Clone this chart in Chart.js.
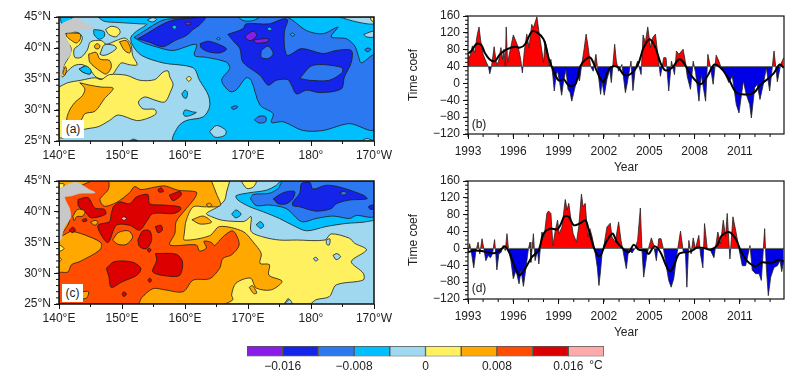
<!DOCTYPE html>
<html>
<head>
<meta charset="utf-8">
<title>Time coef</title>
<script src="https://cdn.jsdelivr.net/npm/chart.js@4"></script>
<style>
  body { margin: 0; background: #fff; width: 801px; height: 377px; overflow: hidden; position: relative; font-family: "Liberation Sans", Arial, sans-serif; }
  canvas { position: absolute; }
  .tag { position: absolute; font-size: 12px; color: #222; text-align: center; line-height: 18px; }
</style>
</head>
<body>
<canvas id="mapA" style="left:0;top:0"></canvas>
<canvas id="mapC" style="left:0;top:165px"></canvas>
<canvas id="tsB" style="left:400px;top:0"></canvas>
<canvas id="tsD" style="left:400px;top:165px"></canvas>
<canvas id="cbar" style="left:230px;top:340px"></canvas>
<div class="tag" style="left:62px;top:120px;width:22px;height:18px;background:#fff">(a)</div>
<div class="tag" style="left:62px;top:284px;width:21px;height:18px;background:#fff">(c)</div>
<div class="tag" style="left:469px;top:115px;width:20px">(b)</div>
<div class="tag" style="left:469px;top:279px;width:20px">(d)</div>
<div class="tag" style="left:587px;top:356px;width:18px">°C</div>
<script>
//-----AXES
const lonTicks = [140, 150, 160, 170, 180, 190];
const lonLabels = ['140°E', '150°E', '160°E', '170°E', '180°', '170°W'];
const latTicks = [25, 30, 35, 40, 45];
const latLabels = ['25°N', '30°N', '35°N', '40°N', '45°N'];
const yearTicks = [1993, 1996, 1999, 2002, 2005, 2008, 2011];
const coefTicks = [-120, -80, -40, 0, 40, 80, 120, 160];
const levelEdges = [-0.02, -0.016, -0.012, -0.008, -0.004, 0, 0.004, 0.008, 0.012, 0.016, 0.02];
const levelTicks = [-0.016, -0.008, 0, 0.008, 0.016];

//-----COAST (both maps)
const coast = [[140,43.7],[142.2,44.7],[143,44.7],[144.6,43.7],[145.7,43.1],[143.3,43],[142,42.6],[140.9,42.4],[141.2,41.5],[141.7,40.4],[141.8,39],[140.9,37.7],[140.5,36.3],[140.4,35.6],[140,35.2],[139,39]];

//-----MAP (a) contour areas, lon/lat
const aCyan = [[146.2,45],[147.2,44.3],[149.6,44.1],[152.8,43.9],[153.9,43.8],[152.3,42.7],[151.4,41.7],[151.7,40.4],[153.1,38.8],[156.5,37.6],[161.3,36.8],[162.3,34.8],[163.7,32.4],[163.9,30.5],[162.9,28.9],[160.2,28.3],[158.9,27.3],[158.2,25],[190,25],[190,45]];
const aCyanNw = [[140.2,45],[140.4,44],[141,43.7],[141.8,44.5],[142.2,45]];
const aCyan2 = [[145.5,43],[147.1,42.7],[147.2,41.9],[146.4,41.4],[145.6,42.1]];
const aMid = [[151.9,41.7],[153.6,42.8],[156.5,44.5],[159.2,44.8],[163.4,45],[175.8,45],[176.9,44.6],[179.3,42.8],[181.9,42.3],[184.3,43.4],[183.2,41.8],[185.6,41.5],[186.9,40.4],[187.5,38.8],[188,37.6],[190,38.8],[190,26.9],[186.1,27.8],[181.9,26.7],[178.7,26.7],[175.6,28.1],[173.7,28],[174,29.4],[171.9,30.8],[170.5,34.8],[169.7,35.2],[168.1,33.2],[167.1,33],[165.8,34.8],[167.1,36.7],[166.6,37.7],[163.4,38.5],[161.5,38.8],[161.8,40.6],[158.1,39.6],[155.4,40.2],[153.3,40.9]];
const aBlue1 = [[152.5,41.5],[153.9,42.3],[156.2,43.7],[158.1,44.5],[160.7,44.8],[163.2,44.9],[162.3,43.7],[161.3,43],[160.2,42],[158.4,41.2],[156.5,40.2],[154.4,40.9]];
const aBlue2 = [[162.4,40.7],[163.7,41.1],[165.8,40.4],[166.6,39.8],[165.5,39.2],[163.7,39.4],[162.6,40]];
const aBlue3 = [[166.8,42.2],[169.2,43.1],[169.7,43.9],[173.4,43.9],[175.6,44.7],[176.3,44.5],[175.8,42.8],[175.8,40.2],[176.3,38.8],[178.5,39.9],[181.9,39.1],[184,39.6],[186.4,39.6],[186.4,37.7],[185.3,35.3],[184.8,33.4],[181.4,32.8],[179.3,33.2],[177.7,32.6],[176.9,34],[176.3,34.9],[174.5,34.8],[173.2,34],[171.9,35.6],[169.2,37.7],[168.7,39.9],[167.6,41.2]];
const aHole1 = [[172.1,39.6],[173.2,40.3],[174,39.1],[173.2,38.3],[172.1,38.5]];
const aHole2 = [[178.2,35.1],[180.3,37.2],[184.8,36.9],[185,36.1],[182.9,34.8],[179.7,34.8]];
const aPurple1 = [[169.6,42],[170.8,42.7],[171.4,42.1],[170.5,41.2],[169.7,41.5]];
const aPurple2 = [[170.9,41.3],[173.2,41.5],[173.1,41],[171.3,40.8]];
const aPurple3 = [[160,44],[160.5,44.2],[161,43.9],[160.4,43.7]];
const aCyanSpots = [
  [[168.4,45],[171.8,45],[170.7,44.4],[169.3,44.4]],
  [[157.9,43.4],[158.3,43.7],[158.7,43.4],[158.3,43]],
  [[165,41.5],[165.3,41.7],[165.6,41.5],[165.3,41.3]],
  [[173,43.1],[173.4,43.4],[173.8,43],[173.4,42.8]],
  [[176.7,42.2],[177.1,42.4],[177.4,42.1],[177,41.9]],
  [[143.2,36.6],[144.3,37.1],[145.1,36.4],[144.9,35.8],[143.8,36.1]],
  [[159.5,32.6],[160,33.2],[160.4,32.8],[160.2,31.9],[159.8,32]],
  [[159.7,29.4],[160,30],[161.2,29.7],[161.8,29.6],[160.8,29.1],[160,29]],
  [[151.2,25],[151.8,25.3],[152.5,25]]
];
const aMidSpots = [
  [[167.3,30.4],[168,30.7],[168.4,30.5],[167.7,30.1]],
  [[171,28.4],[171.8,29],[172.8,28.9],[172.8,28.1],[171.8,27.9]],
  [[188.5,39.7],[189,40],[189.5,39.8],[189,39.4]]
];
const aLightSpots = [
  [[154,44.5],[154.9,44.9],[155.5,44.6],[154.8,44.2]],
  [[163.9,26.5],[165,27.5],[166.5,26.7],[166.3,25.9],[164.8,25.6]],
  [[188,25],[188.9,25.4],[189.8,25]],
  [[184.5,45],[187.3,44.2],[190,43.9],[190,45]],
  [[188.4,42.2],[190,42.7],[190,41.8],[188.8,41.8]],
  [[146.5,39],[147.2,40.5],[148.8,40.4],[149.1,39.9],[147.8,39],[147,38.8]]
];
const aYellow1 = [[140.4,35.6],[140.8,37.2],[141.7,38.8],[141.9,40.1],[140.9,41.5],[141.1,42.4],[143,42.5],[143.7,41.7],[143.3,40.6],[142.4,39.8],[142.5,38.5],[143.5,38.5],[144.5,39.7],[145,41],[146.7,41.2],[147.5,40.6],[149.1,41.2],[150.5,41.6],[151.4,40.6],[151.7,38.8],[152.4,37.3],[151.2,37.3],[149.9,37.6],[149.3,36.9],[148.4,35.6],[147.2,35],[145.9,35.3],[144.9,36.5],[143.8,37.3],[142.5,37.2],[141.2,36.1],[140.6,35.3]];
const aYellow2 = [[140,33.7],[141.4,34.4],[143.5,34.8],[145.7,35.2],[146.7,34.9],[148,35.7],[150.7,35.6],[152.8,34.8],[155.2,34.9],[156.5,36.1],[157.3,36.3],[157.6,35.3],[158.1,34.2],[157.8,33.2],[156.8,31.3],[155.2,31.6],[153.6,32.1],[152.6,31.3],[153.3,30.2],[155.2,30.1],[155.4,29.4],[153.9,28.6],[152.3,28.3],[149.4,29.2],[148,28.3],[146.2,27.3],[144.1,26.9],[140,25.6]];
const aYellow3 = [[147.4,43],[148.3,43.5],[149.4,43.2],[149.7,42.5],[149,41.8],[147.9,42.2]];
const aYellow4 = [[160.2,35.1],[160.6,35.4],[161,35.1],[160.6,34.6]];
const aYellow5 = [[189.4,45],[190,45],[190,44.3],[189.6,44.4]];
const aOrange1 = [[143.3,34.4],[144.9,34],[146.7,33.7],[148.6,33.5],[147.2,31.8],[145.7,29.8],[144.1,29.4],[143.4,28.3],[141.3,28.3],[141.6,29.8],[142.5,31.2],[143.7,32.3],[144.1,33.4]];
const aOrange2 = [[141.2,42.4],[143.3,42.3],[143.4,41.5],[142.8,40.8],[142,41.2],[141.2,41.9]];
const aOrange3 = [[144.7,39],[145.9,39.3],[146.5,38.2],[148,38],[148.3,36.9],[147.5,35.8],[146.5,36.3],[144.9,37.7]];
const aOrange4 = [[145.6,40.3],[146,40.7],[146.5,40.4],[146.3,39.9],[145.8,39.9]];
const aOrange5 = [[149.6,41],[150.7,41.2],[151.4,39.8],[151.2,39.2],[150.4,39.6]];
const aOrange6 = [[140.6,35.9],[141,37],[141.2,36.5],[140.9,35.6]];

//-----MAP (c) contour areas, lon/lat
const cCyan = [[190,38.6],[188.3,38.3],[185.6,38.1],[182.4,37.6],[179.3,36.9],[177.1,37.8],[175,38.9],[172.4,40],[170.3,40.8],[168.4,41.9],[168.1,42.6],[170.3,43.1],[172.9,43.5],[174.5,44.3],[175.3,45],[190,45]];
const cMid = [[170.4,42.1],[170.8,42.8],[173.4,43],[174.8,43.8],[175.6,45],[190,45],[190,39.3],[187.2,39.4],[186.1,38.9],[183.5,39.3],[180.8,38.9],[178.5,38.4],[176.1,40.5],[173.4,41.1],[171.3,41]];
const cBlue1 = [[177.1,41.6],[178.2,43],[178.5,44.6],[179.8,44.8],[180.3,43.7],[182.4,44.3],[184.6,44],[188.3,42.7],[188.9,42.1],[186.1,41.9],[184,41.3],[183.2,40.5],[180.8,40.1],[178.2,40.8],[177.1,41]];
const cBlue2 = [[174,42.1],[175.6,43.1],[177.4,43.3],[177.1,42.1],[176.1,41.3],[174.8,41.3]];
const cBlue3 = [[189.1,40.8],[189.6,41.1],[190,41],[190,40.5],[189.4,40.4]];
const cMidSpot = [[184.6,43.1],[185.2,43.3],[185.7,43],[185.1,42.7]];
const cCyanSpots = [
  [[167.4,39.6],[168.1,40.3],[168.9,39.6],[168.1,39]],
  [[171.3,37.9],[172,38.4],[172.5,37.7],[172,37.3]]
];
const cYellow = [[167.1,45],[166.6,43.2],[166.3,41.9],[165.2,40.8],[163.4,39.7],[164.2,39.2],[166,38.6],[169.2,38.4],[169.7,38.6],[170.5,39.2],[170.5,36.8],[172.4,35.9],[175,35.4],[177.7,35.4],[182.2,35.4],[183.2,36.4],[186.1,35.7],[186.9,34.9],[188.8,33.8],[186.4,31.9],[188.3,30],[188.3,28.9],[184,28.1],[182.9,26.2],[180.8,25.7],[179.8,25],[176.9,25],[176.4,25.9],[175.6,25],[160,25],[160,45]];
const cYellowTop = [[168.9,45],[171.3,45],[170.8,44],[169.8,43.8]];
const cYellowEdges = [
  [[140,34.7],[140.8,34],[140,33.6]],
  [[140,32.7],[140.4,32.2],[140,31.9]],
  [[140,44.6],[140.8,44.5],[140.6,43.9],[140,43.8]]
];
const cLightSpots = [
  [[183.5,32.9],[184.1,33.2],[184.7,32.7],[184,32.2]],
  [[180.4,32.4],[180.8,32.6],[181.1,32.2],[180.7,32]],
  [[182.4,35.4],[183,35.6],[182.9,34.6],[182.5,34.7]],
  [[175.8,25],[176.6,25.7],[177,25]]
];
const cOrange = [[164.2,45],[165,42.9],[165.6,41],[163.1,40.8],[161.3,40.8],[160.2,38.6],[159.9,36.5],[159.9,35.4],[163.9,36.1],[165.5,37.6],[169.2,36.8],[170.8,35.1],[172.1,33.2],[171.9,31.6],[173.4,31.4],[173.3,29.7],[175.4,28.7],[173.7,27.3],[171.3,27.6],[170.4,29.2],[168.1,28.4],[167.4,26.5],[167.6,25.7],[166,25],[140,25],[140,45]];
const cOrangeSpots = [
  [[161.1,38.7],[162.9,39.3],[164.2,38.3],[162.4,38]],
  [[170.2,27.7],[170.7,28],[171.4,26.8],[170.9,26.7]],
  [[148.5,35.4],[149.4,36.6],[151,36.9],[151.7,35.9],[150.7,34.7],[149.4,34.7]],
  [[142.2,39.3],[143,40.4],[144.1,40.1],[143.8,39.3],[142.8,39.2],[142.4,38.5]],
  [[145,38.3],[145.7,38.6],[146.2,38.3],[145.7,37.8]],
  [[143.7,27],[144.7,27],[144.4,26],[143.7,25.9]],
  [[163.4,41.2],[163.9,41.4],[164.3,41],[163.7,40.8]]
];
const cRedOrange = [[145.1,45],[147.8,45],[147.8,43.6],[146.5,42],[147.2,40.9],[149.1,41.5],[151.2,43.1],[152,44.1],[153,43.6],[155.2,44],[156.8,44.2],[158.9,43.5],[161.8,43.2],[161.6,42.3],[160.2,40.5],[158.6,38.4],[158.4,36.5],[157.6,34.6],[161.8,34.6],[162.3,33.6],[163.4,34.1],[163,35.2],[164.2,35],[164.7,34.5],[166,35.9],[167.4,36.9],[168,36.5],[168.6,34.6],[167.4,33],[166,32.4],[165.5,30.8],[163.9,29.1],[161.3,28.9],[159.7,27],[156.8,27.3],[154.9,27.5],[153.1,26],[152.5,25],[140,25],[140,30],[141.4,30.2],[142,31.4],[143.3,31.9],[146.5,33.8],[146.7,34.9],[144.9,35.9],[142,36.8],[140.4,36.1],[141.7,38.7],[140.6,42.5]];
const cRed1 = [[143,42],[144.6,42.3],[145.7,40.6],[147.2,40.4],[147.4,39.6],[145.1,39],[144.3,39.8],[143.1,40.9]];
const cRed2 = [[148.6,40.8],[149.6,41.6],[151.2,41.3],[152.3,42.4],[154.1,42.8],[154.4,41.3],[156.5,41.1],[159.2,40.8],[159.3,40.3],[158.1,39.7],[154.9,39.7],[153.9,38.4],[152.8,37],[151.2,37.8],[149.1,37.8],[147.8,35],[146.7,36.2],[146.2,37.8],[148,38.4],[148.3,39.7]];
const cRed3 = [[152.5,35.4],[153.3,36.9],[154.4,36.9],[154.7,35.4],[153.9,34],[152.8,34.3]];
const cRed4 = [[147.5,30.8],[148.8,31.9],[151.7,31.8],[153,30.8],[152.4,29.7],[150,28.6],[148.3,27.7],[147.9,29.5]];
const cRed5 = [[155.3,33.2],[158.6,33.1],[159.6,31.9],[159.2,29.7],[157.6,29.5],[154.9,30.2],[155.5,32.1]];
const cRedSpots = [
  [[155.3,37.6],[156.2,37.8],[156.4,37],[155.7,36.6]],
  [[157.5,42.7],[159.2,43.3],[159.4,42.7],[158.1,41.8]],
  [[155.7,43.6],[156.2,43.9],[156.6,43.3],[155.9,43.2]],
  [[141.6,37],[142.2,37.5],[142.6,37],[142.1,36.6]],
  [[143.7,38.7],[144.3,38.9],[144.4,38.5],[143.8,38.4]],
  [[154,33.8],[154.3,34.1],[154.6,33.8],[154.3,33.4]],
  [[150,26.6],[150.3,27],[150.7,26.6],[150.3,26.2]],
  [[154.1,28.9],[154.4,29.2],[154.7,28.9],[154.4,28.5]]
];
const cPink = [[149.9,38.9],[150.3,39.2],[150.7,38.9],[150.3,38.6]];

//-----TIME COEF (b)
const bRawYears = [1993,1993.11,1993.29,1993.44,1993.6,1993.73,1993.84,1994,1994.18,1994.36,1994.44,1994.56,1994.73,1994.89,1995.02,1995.18,1995.29,1995.38,1995.47,1995.53,1995.62,1995.78,1996,1996.16,1996.33,1996.49,1996.6,1996.73,1996.89,1997.04,1997.22,1997.33,1997.56,1997.69,1997.89,1998,1998.11,1998.27,1998.38,1998.49,1998.62,1998.71,1998.84,1998.93,1999.07,1999.2,1999.33,1999.49,1999.62,1999.76,1999.87,2000,2000.13,2000.27,2000.38,2000.53,2000.67,2000.82,2000.96,2001.11,2001.29,2001.47,2001.6,2001.78,2001.87,2002.02,2002.2,2002.38,2002.49,2002.71,2002.82,2002.97,2003.19,2003.42,2003.53,2003.79,2003.92,2004.08,2004.23,2004.46,2004.59,2004.74,2004.9,2005.08,2005.23,2005.41,2005.56,2005.74,2005.96,2006.11,2006.29,2006.47,2006.67,2006.8,2006.96,2007.24,2007.4,2007.51,2007.73,2007.91,2008.07,2008.29,2008.44,2008.73,2008.88,2009.06,2009.23,2009.43,2009.61,2009.72,2009.99,2010.27,2010.5,2010.76,2010.94,2011.23,2011.42,2011.65,2011.76,2011.98,2012.15,2012.33,2012.55,2012.75,2012.97,2013.26,2013.48,2013.7,2013.9];
const bRawValues = [69,61,89,73,113,134,101,69,53,39,23,41,87,45,52,85,57,81,41,134,49,77,115,101,85,57,25,77,117,85,140,132,158,125,77,49,101,77,41,57,17,-18,21,29,2,-28,6,33,-14,-22,-42,-22,-2,17,6,45,77,117,85,41,29,69,29,-26,5,-28,10,33,2,93,53,29,45,-22,-2,53,-17,37,53,21,115,97,134,85,109,117,69,17,61,61,-18,53,21,77,69,81,49,17,-14,53,25,-42,21,-42,69,37,-2,67,53,41,25,2,17,-50,-70,6,-26,-50,-82,-10,-2,-38,-2,37,-18,77,4,45,61];
const bSmoothYears = [1993,1993.22,1993.56,1993.89,1994.11,1994.44,1994.78,1995.11,1995.56,1996.11,1996.44,1996.78,1997.22,1997.56,1998,1998.33,1998.67,1999,1999.33,1999.67,2000.11,2000.44,2000.78,2001.11,2001.44,2001.78,2001.98,2002.31,2002.64,2002.97,2003.31,2003.64,2003.97,2004.3,2004.63,2005.03,2005.41,2005.74,2006.07,2006.51,2006.96,2007.29,2007.73,2008.39,2008.84,2009.32,2009.83,2010.27,2010.72,2011.27,2011.93,2012.38,2012.82,2013.26,2013.64,2013.9];
const bSmoothValues = [71,77,94,91,73,57,53,69,81,87,85,93,123,121,105,61,29,7,10,-5,-2,41,57,61,37,10,4,33,41,37,21,20,29,49,85,105,85,49,31,37,57,49,21,-2,17,45,33,10,-20,-26,-22,-2,10,25,45,37];

//-----TIME COEF (d)
const dRawYears = [1993,1993.11,1993.24,1993.38,1993.51,1993.67,1993.78,1993.93,1994.07,1994.18,1994.33,1994.49,1994.62,1994.76,1994.84,1994.91,1995.04,1995.2,1995.33,1995.47,1995.58,1995.69,1995.84,1996,1996.18,1996.38,1996.51,1996.67,1996.84,1997,1997.11,1997.16,1997.33,1997.44,1997.6,1997.69,1997.89,1998.04,1998.22,1998.33,1998.49,1998.62,1998.78,1998.93,1999.04,1999.22,1999.44,1999.56,1999.67,1999.82,1999.96,2000.18,2000.33,2000.51,2000.62,2000.76,2000.93,2001.07,2001.22,2001.38,2001.56,2001.67,2001.78,2001.87,2002.02,2002.2,2002.42,2002.53,2002.75,2002.97,2003.13,2003.26,2003.48,2003.64,2003.86,2004.08,2004.23,2004.41,2004.52,2004.63,2004.85,2005.14,2005.3,2005.47,2005.63,2005.78,2005.96,2006.14,2006.29,2006.45,2006.62,2006.85,2007.07,2007.24,2007.4,2007.49,2007.62,2007.77,2007.91,2008.06,2008.28,2008.39,2008.55,2008.66,2008.84,2009.06,2009.28,2009.54,2009.72,2009.9,2010.05,2010.16,2010.34,2010.54,2010.72,2010.94,2011.16,2011.38,2011.67,2011.82,2012.04,2012.27,2012.42,2012.64,2012.75,2012.88,2013.04,2013.26,2013.48,2013.66,2013.77,2013.9];
const dRawValues = [-9,11,-13,-46,-9,15,-13,23,-5,-29,-17,-22,-13,21,-13,-51,-13,-9,7,-5,35,-5,-29,-72,-52,-84,-52,-90,-45,-1,15,-33,35,-29,-5,-37,39,27,83,89,83,7,43,67,35,51,116,91,107,67,35,15,51,129,99,107,27,47,27,-1,-45,-88,-52,-13,11,51,60,27,15,63,19,-5,-48,-1,-11,2,19,96,-5,-68,-13,25,7,-29,23,23,-5,-45,-76,-92,-72,-9,41,-5,-13,-92,19,-13,25,-1,31,-13,-46,59,-1,-5,-22,39,11,67,27,83,-25,75,43,-1,-41,-41,7,-52,-60,-60,-76,47,-45,-112,-68,-45,-41,-29,-55,-29];
const dSmoothYears = [1993,1993.44,1993.89,1994.33,1994.78,1995.22,1995.44,1995.78,1996.11,1996.4,1996.78,1997.22,1997.67,1998,1998.44,1998.89,1999.11,1999.38,1999.67,2000,2000.44,2000.78,2001,2001.33,2001.6,2001.78,2002.09,2002.42,2002.6,2002.86,2003.19,2003.64,2003.97,2004.3,2004.74,2004.96,2005.34,2005.74,2006.07,2006.36,2006.62,2006.96,2007.29,2007.73,2008.18,2008.62,2009.06,2009.5,2009.77,2010.27,2010.72,2011.05,2011.49,2012.04,2012.49,2013.04,2013.59,2013.9];
const dSmoothValues = [-9,-5,-6,-9,-11,-1,5,-13,-45,-64,-48,-21,-5,35,47,45,55,76,75,55,60,67,43,2,-17,-17,11,31,35,15,2,-9,9,-3,-5,-13,5,-9,-37,-55,-41,-13,-9,-7,2,1,-3,7,29,39,23,-5,-30,-42,-33,-35,-27,-30];

//-----COLORS
const cPurple = '#8a1ce8', cBlue = '#1424e8', cMidBlue = '#2c78f0', cCyanBlue = '#00bfff', cLight = '#a0d8f0';
const cYel = '#fff060', cOra = '#ffa800', cRedOra = '#ff4c00', cDeep = '#dc0000', cRose = '#ffaaaa';
const levelColors = [cPurple, cBlue, cMidBlue, cCyanBlue, cLight, cYel, cOra, cRedOra, cDeep, cRose];
const landColor = '#c8c8c8';

Chart.defaults.font.family = '"Liberation Sans", Arial, sans-serif';
Chart.defaults.font.size = 12;
Chart.defaults.color = '#222';

function steps(from, to, step){
  let out = [];
  for (let v = from; v <= to + 1e-9; v += step) out.push(v);
  return out;
}

// background, short ticks and the box round the plot
const framePlugin = {
  id: 'frame',
  beforeDatasetsDraw(chart, args, opts){
    if (!opts.bg) return;
    const a = chart.chartArea;
    chart.ctx.fillStyle = opts.bg;
    chart.ctx.fillRect(a.left, a.top, a.right - a.left, a.bottom - a.top);
  },
  afterDatasetsDraw(chart, args, opts){
    const ctx = chart.ctx, a = chart.chartArea;
    ctx.save();
    ctx.strokeStyle = '#111';
    ctx.lineWidth = 1;
    ctx.beginPath();
    opts.xMinor.forEach(function(v){
      const x = chart.scales.x.getPixelForValue(v);
      ctx.moveTo(x, a.bottom); ctx.lineTo(x, a.bottom + 3);
    });
    opts.yMinor.forEach(function(v){
      const y = chart.scales.y.getPixelForValue(v);
      ctx.moveTo(a.left, y); ctx.lineTo(a.left - 3, y);
    });
    ctx.stroke();
    ctx.lineWidth = opts.frameWidth;
    ctx.strokeRect(a.left, a.top, a.right - a.left, a.bottom - a.top);
    ctx.restore();
  }
};

function fixedX(height){
  return function(s){ s.height = height; s.paddingLeft = 0; s.paddingRight = 0; };
}
function fixedY(width){
  return function(s){ s.width = width; s.paddingTop = 0; s.paddingBottom = 0; };
}

function makeCanvas(id, w, h){
  const el = document.getElementById(id);
  el.width = w; el.height = h;
  el.style.width = w + 'px'; el.style.height = h + 'px';
  return el.getContext('2d');
}

//-----MAPS
function polygon(points, color, border){
  const data = points.map(function(p){ return {x: p[0], y: p[1]}; });
  data.push({x: points[0][0], y: points[0][1]});
  return {
    data: data, showLine: true, fill: 'shape', backgroundColor: color,
    borderColor: border, borderWidth: 0.8, pointRadius: 0, tension: 0.3
  };
}

function drawMap(id, layers, boxTop, boxBottom){
  const line = '#1c1c1c';
  const datasets = layers.map(function(l, i){
    const ds = polygon(l[0], l[1], l[1] === landColor ? landColor : line);
    ds.order = layers.length - i;
    return ds;
  });
  return new Chart(makeCanvas(id, 400, 165), {
    type: 'scatter',
    data: {datasets: datasets},
    plugins: [framePlugin],
    options: {
      responsive: false, animation: false,
      layout: {padding: {top: boxTop, right: 26, left: 0, bottom: 0}},
      plugins: {
        legend: {display: false}, tooltip: {enabled: false},
        frame: {bg: cLight, xMinor: steps(145, 185, 10), yMinor: steps(25, 45, 1), frameWidth: 1.5}
      },
      scales: {
        x: {
          type: 'linear', min: 140, max: 190,
          grid: {drawOnChartArea: false, tickLength: 5, tickColor: '#111'}, border: {display: false},
          afterBuildTicks: function(s){ s.ticks = lonTicks.map(function(v){ return {value: v}; }); },
          afterFit: fixedX(165 - boxBottom),
          ticks: {autoSkip: false, maxRotation: 0, padding: 2, callback: function(v, i){ return lonLabels[i]; }}
        },
        y: {
          type: 'linear', min: 25, max: 45,
          grid: {drawOnChartArea: false, tickLength: 5, tickColor: '#111'}, border: {display: false},
          afterBuildTicks: function(s){ s.ticks = latTicks.map(function(v){ return {value: v}; }); },
          afterFit: fixedY(59),
          ticks: {autoSkip: false, padding: 3, callback: function(v, i){ return latLabels[i]; }}
        }
      }
    }
  });
}

//-----TIME SERIES
function pairs(xs, ys){
  return xs.map(function(x, i){ return {x: x, y: ys[i]}; });
}

function drawSeries(id, rawX, rawY, smoothX, smoothY, base){
  return new Chart(makeCanvas(id, 401, 175), {
    type: 'line',
    data: {datasets: [
      {data: pairs(smoothX, smoothY), borderColor: '#000', borderWidth: 2, pointRadius: 0, tension: 0.3, fill: false, order: 1},
      {data: pairs([1993, 2013.92], [base, base]), borderColor: '#666', borderWidth: 1, pointRadius: 0, fill: false, order: 2},
      {data: pairs(rawX, rawY), borderColor: '#222', borderWidth: 0.8, pointRadius: 0, tension: 0, order: 3,
       fill: {target: {value: base}, above: '#ff0000', below: '#0000e6'}}
    ]},
    plugins: [framePlugin],
    options: {
      responsive: false, animation: false,
      layout: {padding: {top: 16, right: 17, left: 0, bottom: 0}},
      plugins: {
        legend: {display: false}, tooltip: {enabled: false},
        frame: {xMinor: steps(1993, 2013, 1), yMinor: steps(-120, 160, 10), frameWidth: 1.2}
      },
      scales: {
        x: {
          type: 'linear', min: 1993, max: 2013.92,
          grid: {drawOnChartArea: false, tickLength: 5, tickColor: '#111'}, border: {display: false},
          afterBuildTicks: function(s){ s.ticks = yearTicks.map(function(v){ return {value: v}; }); },
          afterFit: fixedX(41),
          title: {display: true, text: 'Year', font: {size: 12}, padding: 0},
          ticks: {autoSkip: false, maxRotation: 0, padding: 5, callback: function(v){ return String(v); }}
        },
        y: {
          type: 'linear', min: -120, max: 160,
          grid: {drawOnChartArea: false, tickLength: 5, tickColor: '#111'}, border: {display: false},
          afterBuildTicks: function(s){ s.ticks = coefTicks.map(function(v){ return {value: v}; }); },
          afterFit: fixedY(68),
          title: {display: true, text: 'Time coef', font: {size: 12}, padding: {top: 6, bottom: 0}},
          ticks: {autoSkip: false, padding: 3, callback: function(v){ return String(v).replace('-', '\u2212'); }}
        }
      }
    }
  });
}

//-----COLORBAR
function drawColorbar(){
  const datasets = levelColors.map(function(c, i){
    return {data: [[levelEdges[i], levelEdges[i + 1]]], backgroundColor: c, borderColor: '#555', borderWidth: 1,
      borderSkipped: false, barPercentage: 1, categoryPercentage: 1, grouped: false};
  });
  return new Chart(makeCanvas('cbar', 400, 37), {
    type: 'bar',
    data: {labels: [''], datasets: datasets},
    options: {
      indexAxis: 'y', responsive: false, animation: false,
      layout: {padding: {top: 6, left: 17, right: 26, bottom: 0}},
      plugins: {legend: {display: false}, tooltip: {enabled: false}},
      scales: {
        x: {
          type: 'linear', min: -0.02, max: 0.02,
          grid: {display: false, drawTicks: false}, border: {display: false},
          afterBuildTicks: function(s){ s.ticks = levelTicks.map(function(v){ return {value: v}; }); },
          afterFit: fixedX(20.5),
          ticks: {autoSkip: false, maxRotation: 0, padding: 3, callback: function(v){
            return v === 0 ? '0' : (v < 0 ? '\u2212' : '') + Math.abs(v).toFixed(3);
          }}
        },
        y: {display: false}
      }
    }
  });
}

function spots(list, color){
  return list.map(function(p){ return [p, color]; });
}

window.onload = function(){
  const layersA = [
    [aCyan, cCyanBlue], [aCyanNw, cCyanBlue], [aCyan2, cCyanBlue],
    [aMid, cMidBlue], [aBlue1, cBlue], [aBlue2, cBlue], [aBlue3, cBlue],
    [aHole1, cMidBlue], [aHole2, cMidBlue], [aPurple1, cPurple], [aPurple2, cPurple], [aPurple3, cPurple]
  ].concat(spots(aLightSpots.slice(0, 5), cLight), spots(aCyanSpots, cCyanBlue), spots(aMidSpots, cMidBlue), [
    [aYellow1, cYel], [aYellow2, cYel], [aYellow3, cYel], [aYellow4, cYel], [aYellow5, cYel],
    [aLightSpots[5], cLight],
    [aOrange1, cOra], [aOrange2, cOra], [aOrange3, cOra], [aOrange4, cOra], [aOrange5, cOra], [aOrange6, cOra],
    [aCyanSpots[5], cCyanBlue],
    [coast, landColor]
  ]);
  const layersC = [
    [cCyan, cCyanBlue], [cMid, cMidBlue], [cBlue1, cBlue], [cBlue2, cBlue], [cBlue3, cBlue], [cMidSpot, cMidBlue]
  ].concat(spots(cCyanSpots, cCyanBlue), [[cYellow, cYel], [cYellowTop, cYel]], spots(cLightSpots, cLight), [
    [cOrange, cOra], [cRedOrange, cRedOra]
  ], spots(cYellowEdges, cYel), [
    [cRed1, cDeep], [cRed2, cDeep], [cRed3, cDeep], [cRed4, cDeep], [cRed5, cDeep], [cPink, cRose]
  ], spots(cOrangeSpots, cOra), spots(cRedSpots, cDeep), [
    [coast, landColor]
  ]);

  drawMap('mapA', layersA, 17, 141);
  drawMap('mapC', layersC, 16, 139);
  drawSeries('tsB', bRawYears, bRawValues, bSmoothYears, bSmoothValues, 40);
  drawSeries('tsD', dRawYears, dRawValues, dSmoothYears, dSmoothValues, 0);
  drawColorbar();
}
</script>
</body>
</html>
